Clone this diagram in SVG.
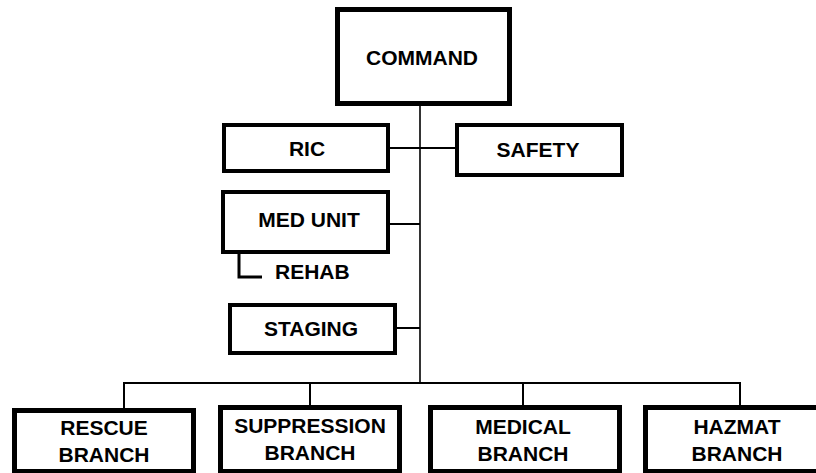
<svg xmlns="http://www.w3.org/2000/svg" width="816" height="473" viewBox="0 0 816 473">
<style>
.box{fill:#fff;stroke:#000}
.t{font-family:"Liberation Sans",Arial,sans-serif;font-weight:bold;font-size:21px;fill:#000;text-anchor:middle}
.c{stroke:#000;fill:none}
</style>
<rect width="816" height="473" fill="#fff"/>
<g id="connectors">
<line class="c" x1="420" y1="106" x2="420" y2="383" stroke-width="1.6"/>
<line class="c" x1="390" y1="148" x2="455" y2="148" stroke-width="2"/>
<line class="c" x1="390" y1="224" x2="420" y2="224" stroke-width="2"/>
<line class="c" x1="397" y1="328" x2="420" y2="328" stroke-width="2"/>
<line class="c" x1="123" y1="383" x2="741" y2="383" stroke-width="2"/>
<line class="c" x1="124" y1="383" x2="124" y2="409" stroke-width="2"/>
<line class="c" x1="310" y1="383" x2="310" y2="406" stroke-width="2"/>
<line class="c" x1="523" y1="383" x2="523" y2="406" stroke-width="2"/>
<line class="c" x1="740" y1="383" x2="740" y2="406" stroke-width="2"/>
<path class="c" d="M239 254 V277 H262" stroke-width="3"/>
</g>
<g id="command">
<rect class="box" x="337.5" y="9.5" width="172" height="94" stroke-width="5"/>
<text class="t" x="422" y="65">COMMAND</text>
</g>
<g id="ric">
<rect class="box" x="224" y="125" width="164" height="46" stroke-width="4"/>
<text class="t" x="307" y="156">RIC</text>
</g>
<g id="safety">
<rect class="box" x="457" y="125" width="165" height="50" stroke-width="4"/>
<text class="t" x="538" y="157">SAFETY</text>
</g>
<g id="med-unit">
<rect class="box" x="223" y="192" width="165" height="60" stroke-width="4"/>
<text class="t" x="309" y="227">MED UNIT</text>
</g>
<g id="rehab">
<text class="t" x="275" y="279" style="text-anchor:start">REHAB</text>
</g>
<g id="staging">
<rect class="box" x="230" y="305" width="165" height="48" stroke-width="4"/>
<text class="t" x="311" y="336">STAGING</text>
</g>
<g id="rescue">
<rect class="box" x="14.5" y="410.5" width="179" height="61" stroke-width="5"/>
<text class="t" x="104" y="435">RESCUE</text>
<text class="t" x="104" y="462">BRANCH</text>
</g>
<g id="suppression">
<rect class="box" x="220.5" y="407.5" width="179" height="64" stroke-width="5"/>
<text class="t" x="310" y="433">SUPPRESSION</text>
<text class="t" x="310" y="460">BRANCH</text>
</g>
<g id="medical">
<rect class="box" x="430.5" y="407.5" width="189" height="64" stroke-width="5"/>
<text class="t" x="523" y="434">MEDICAL</text>
<text class="t" x="523" y="461">BRANCH</text>
</g>
<g id="hazmat">
<rect class="box" x="645.5" y="407.5" width="185" height="64" stroke-width="5"/>
<text class="t" x="737" y="434">HAZMAT</text>
<text class="t" x="737" y="461">BRANCH</text>
</g>
</svg>
